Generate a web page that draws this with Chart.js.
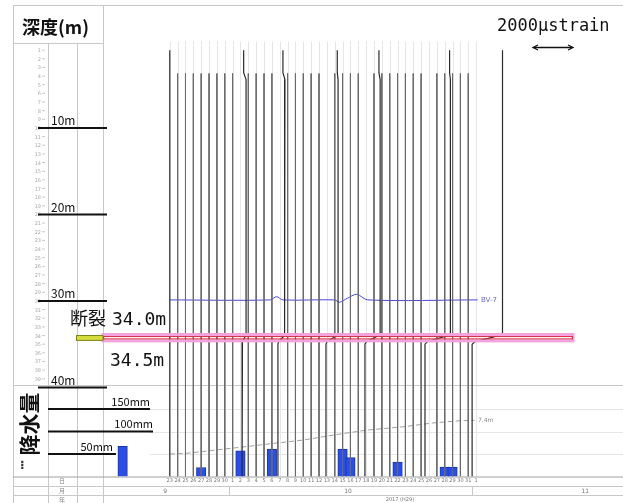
<!DOCTYPE html>
<html>
<head>
<meta charset="utf-8">
<script src="https://cdn.jsdelivr.net/npm/chart.js@4"></script>
<style>
  html, body { margin: 0; padding: 0; background: #fff; }
  canvas { display: block; }
</style>
</head>
<body>
<canvas id="chart" width="623" height="503"></canvas>
<script>
// day 0 = 2017/9/23
const dayLabels = ['23','24','25','26','27','28','29','30',
  '1','2','3','4','5','6','7','8','9','10','11','12','13','14','15','16',
  '17','18','19','20','21','22','23','24','25','26','27','28','29','30','31','1'];
const monthLabels = ['9', '10', '11'];
const monthAt = [-0.6, 22.7, 52.9];
const monthBreaks = [7.5, 38.5];
const yearLabel = '2017 (H29)';

const depthMarks = [10, 20, 30, 40];
const rainMarks = [50, 100, 150];
const breakTop = 34.0, breakBottom = 34.5;

// rainfall (mm/day)
const rainDays = [-6, 4, 9, 13, 22, 23, 29, 35, 36];
const rainMm = [67, 20, 57, 61, 61, 42, 32, 21, 21];

// water level trace (drawn on the rainfall axis)
const levelDays = [0, 2.2, 5.9, 9.6, 13.6, 17, 20.8, 25, 30, 33.5, 37, 38.8];
const levelMm = [50, 51.6, 58.9, 66.2, 74.4, 81, 92, 103, 111, 119, 124, 125];

// BV-7 trace
const bvDays = [0, 12.8, 13.6, 14.4, 21.0, 21.6, 22.6, 23.8, 25.2, 39.2];
const bvDepth = [29.88, 29.88, 29.5, 29.88, 29.88, 30.15, 29.7, 29.23, 29.88, 29.88];

// daily strain profiles from 3.7 m
const shortDays = [1,2,3,4,5,6,7,8,10,11,12,13,15,16,17,18,19,21,22,23,24,
  26,27,28,29,30,31,32,34,35,36,37,38];
const shortTop = 3.7;

// full-depth strain profiles (μstrain offsets from the day position)
const tallDays  = [0, 9, 14, 20, 25, 33, 39];
const tallUpper = [0, 280, 260, 560, 700, 1070, 1320];    // 4.4 - 33.7 m
const tallHead  = [0, -120, -100, -40, -60, -40, 0];      // kink 1.0 - 3.6 m, relative to upper
const tallLower = [0, 80, -90, -45, -60, -200, -200];     // below 34.9 m
const tallDepths = [1.0, 3.6, 4.4, 33.7, 34.0, 34.7, 35.0, 50.3];

const strainPerDay = 392.8; // 2000 μstrain = 40 px, 7.855 px/day
const bottomDepth = 50.3;

const datasets = [];
shortDays.forEach(d => {
  datasets.push({
    type: 'line', yAxisID: 'yDepth',
    data: [{x: d, y: shortTop}, {x: d, y: bottomDepth}],
    borderColor: '#6a6a6a', borderWidth: 1, pointRadius: 0
  });
});
tallDays.forEach((d, i) => {
  const u = d + tallUpper[i] / strainPerDay;
  const h = u + tallHead[i] / strainPerDay;
  const l = d + tallLower[i] / strainPerDay;
  const xs = [h, h, u, u, u - (u - l) * 0.1, l + (u - l) * 0.1, l, l];
  datasets.push({
    type: 'line', yAxisID: 'yDepth',
    data: tallDepths.map((dep, k) => ({x: xs[k], y: dep})),
    borderColor: '#2a2a2a', borderWidth: 1.2, pointRadius: 0
  });
});
datasets.push({
  type: 'line', yAxisID: 'yDepth',
  data: bvDays.map((d, i) => ({x: d, y: bvDepth[i]})),
  borderColor: '#4848d8', borderWidth: 1, pointRadius: 0, tension: 0.3
});
datasets.push({
  type: 'line', yAxisID: 'yRain',
  data: levelDays.map((d, i) => ({x: d, y: levelMm[i]})),
  borderColor: '#a0a0a0', borderWidth: 1, borderDash: [5, 3], pointRadius: 0
});
datasets.push({
  type: 'bar', yAxisID: 'yRain',
  data: rainDays.map((d, i) => ({x: d, y: rainMm[i]})),
  backgroundColor: '#2a4ee6', borderColor: '#1a34b0', borderWidth: 1,
  barThickness: 9.5
});

function seg(ctx, x1, y1, x2, y2) {
  ctx.beginPath(); ctx.moveTo(x1, y1); ctx.lineTo(x2, y2); ctx.stroke();
}
function txt(ctx, s, px, py, font, color, align) {
  ctx.font = font; ctx.fillStyle = color; ctx.textAlign = align || 'left';
  ctx.textBaseline = 'alphabetic'; ctx.fillText(s, px, py);
}

const sheet = {
  id: 'sheet',
  beforeDatasetsDraw(chart) {
    const {ctx, chartArea: a, scales: {x, yDepth, yRain}} = chart;
    ctx.save();
    // faint day grid
    ctx.strokeStyle = '#e6e6e6'; ctx.lineWidth = 1;
    dayLabels.forEach((_, i) => {
      const px = Math.round(x.getPixelForValue(i)) + 0.5;
      seg(ctx, px, a.top, px, a.bottom);
    });
    // rainfall guide lines
    ctx.strokeStyle = '#e6e6e6';
    rainMarks.forEach(v => {
      const py = Math.round(yRain.getPixelForValue(v)) + 0.5;
      seg(ctx, 150, py, a.right, py);
    });
    // frame
    ctx.strokeStyle = '#c8c8c8';
    seg(ctx, 13, 5.5, 623, 5.5);
    seg(ctx, 13.5, 5, 13.5, 503);
    seg(ctx, 48.5, 43, 48.5, 503);
    seg(ctx, 77.5, 43, 77.5, 503);
    seg(ctx, 103.5, 5, 103.5, 503);
    seg(ctx, 13, 43.5, 103, 43.5);
    seg(ctx, 13, 385.5, 623, 385.5);
    seg(ctx, 13, 486.5, 623, 486.5);
    seg(ctx, 13, 495.5, 623, 495.5);
    ctx.strokeStyle = '#a0a0a0';
    seg(ctx, 13, a.bottom + 0.5, 623, a.bottom + 0.5);
    ctx.strokeStyle = '#c8c8c8';
    monthBreaks.forEach(m => {
      const px = Math.round(x.getPixelForValue(m)) + 0.5;
      seg(ctx, px, 486, px, 496);
    });
    ctx.restore();
  },
  afterDatasetsDraw(chart) {
    const {ctx, chartArea: a, scales: {x, yDepth, yRain}} = chart;
    ctx.save();
    const jp = '"Noto Sans CJK JP", sans-serif';
    const mono = '"DejaVu Sans Mono", monospace';

    // depth ticks
    ctx.strokeStyle = '#bbb'; ctx.lineWidth = 0.8;
    for (let d = 1; d < 40; d++) {
      const py = yDepth.getPixelForValue(d);
      txt(ctx, String(d), 41, py + 2, '5px "DejaVu Sans"', '#aaa', 'right');
      seg(ctx, 42, py, 45, py);
    }

    // break band
    const y0 = yDepth.getPixelForValue(breakTop), y1 = yDepth.getPixelForValue(breakBottom);
    ctx.strokeStyle = '#f2a2dc'; ctx.lineWidth = 3;
    ctx.strokeRect(a.left, y0 - 1, 573 - a.left, y1 - y0 + 2);
    ctx.strokeStyle = '#dc2c40'; ctx.lineWidth = 1;
    ctx.strokeRect(a.left + 0.5, y0 + 1, 572 - a.left, y1 - y0 - 2);
    ctx.fillStyle = '#d6de3e';
    ctx.fillRect(76, y0 - 0.5, 27, y1 - y0 + 1.5);
    ctx.strokeStyle = '#80801c';
    ctx.strokeRect(76.5, y0, 26.5, y1 - y0 + 0.5);

    // depth marks
    ctx.strokeStyle = '#111'; ctx.lineWidth = 2;
    depthMarks.forEach(d => {
      const py = yDepth.getPixelForValue(d);
      seg(ctx, 38, py, 107, py);
      txt(ctx, d + 'm', 51, py - 2.5, '12px ' + jp, '#111');
    });

    // rainfall marks
    const rainEnd = {50: 116, 100: 153, 150: 150};
    rainMarks.forEach(v => {
      const py = yRain.getPixelForValue(v);
      ctx.strokeStyle = '#111'; ctx.lineWidth = 2;
      seg(ctx, 48, py, rainEnd[v], py);
      txt(ctx, v + 'mm', rainEnd[v] - (v === 50 ? 3 : 0), py - 3.5, '11px ' + jp, '#111', 'right');
    });

    // titles
    txt(ctx, '深度(m)', 22, 34, 'bold 18px ' + jp, '#111');
    ctx.save();
    ctx.translate(29, 424); ctx.rotate(-Math.PI / 2);
    txt(ctx, '降水量', 0, 7.5, 'bold 21px ' + jp, '#111', 'center');
    ctx.restore();
    txt(ctx, '⁝', 20, 469, 'bold 12px "DejaVu Sans"', '#333');
    txt(ctx, '2000μstrain', 497, 31, '17px ' + mono, '#111');
    ctx.strokeStyle = '#111'; ctx.lineWidth = 1.3;
    seg(ctx, 534, 47.5, 572, 47.5);
    ctx.beginPath(); ctx.moveTo(538, 45); ctx.lineTo(533, 47.5); ctx.lineTo(538, 50); ctx.stroke();
    ctx.beginPath(); ctx.moveTo(568, 45); ctx.lineTo(573, 47.5); ctx.lineTo(568, 50); ctx.stroke();

    txt(ctx, '断裂', 70, 325, '18px ' + jp, '#111');
    txt(ctx, breakTop.toFixed(1) + 'm', 112, 325, '18px ' + mono, '#111');
    txt(ctx, breakBottom.toFixed(1) + 'm', 110, 366, '18px ' + mono, '#111');

    txt(ctx, 'BV-7', 481, yDepth.getPixelForValue(bvDepth[bvDepth.length - 1]) + 2.5, '7px "DejaVu Sans"', '#6a6ad8');
    txt(ctx, '7.4m', 478, yRain.getPixelForValue(levelMm[levelMm.length - 1]) + 2, '6px "DejaVu Sans"', '#888');

    // date axis
    dayLabels.forEach((s, i) => {
      txt(ctx, s, x.getPixelForValue(i), 482, '5px "DejaVu Sans"', '#777', 'center');
    });
    monthLabels.forEach((s, i) => {
      txt(ctx, s, x.getPixelForValue(monthAt[i]), 493, '6px "DejaVu Sans"', '#777', 'center');
    });
    txt(ctx, yearLabel, x.getPixelForValue(29.3), 501, '5px "DejaVu Sans"', '#777', 'center');
    txt(ctx, '日', 62, 483, '6px ' + jp, '#888', 'center');
    txt(ctx, '月', 62, 493, '6px ' + jp, '#888', 'center');
    txt(ctx, '年', 62, 502, '6px ' + jp, '#888', 'center');
    ctx.restore();
  }
};

const ctx = document.getElementById('chart');
new Chart(ctx, {
  type: 'line',
  data: { datasets },
  options: {
    responsive: false,
    animation: false,
    layout: { padding: { left: 103, top: 41.5, right: 0, bottom: 26.5 } },
    plugins: { legend: { display: false }, tooltip: { enabled: false } },
    scales: {
      x: { type: 'linear', min: -8.5, max: 57.7, offset: false, display: false },
      yDepth: { type: 'linear', reverse: true, min: 0, max: bottomDepth, display: false },
      yRain: { type: 'linear', min: 0, max: 966.7, display: false }
    }
  },
  plugins: [sheet]
});
</script>
</body>
</html>
